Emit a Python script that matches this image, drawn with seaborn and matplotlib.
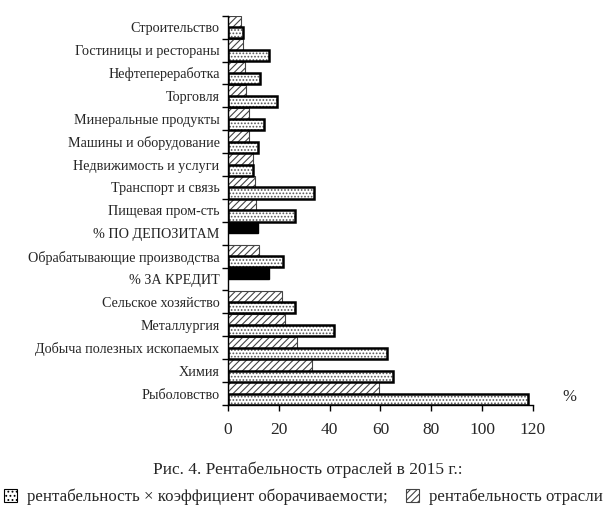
import matplotlib
matplotlib.use("Agg")
import matplotlib.pyplot as plt
import seaborn as sns
import numpy as np
import pandas as pd
from matplotlib.patches import Patch, Rectangle

categories = [
    "Строительство", "Гостиницы и рестораны", "Нефтепереработка", "Торговля",
    "Минеральные продукты", "Машины и оборудование", "Недвижимость и услуги",
    "Транспорт и связь", "Пищевая пром-сть", "% ПО ДЕПОЗИТАМ",
    "Обрабатывающие производства", "% ЗА КРЕДИТ", "Сельское хозяйство",
    "Металлургия", "Добыча полезных ископаемых", "Химия", "Рыболовство",
]
# рентабельность отрасли (hatched, upper bar); rates for the two % rows
profitability = [5.2, 5.9, 6.6, 7.2, 8.3, 8.3, 9.7, 10.6, 11.0, 11.8,
                 12.4, 16.0, 21.4, 22.4, 27.0, 33.2, 59.6]
# рентабельность × коэффициент оборачиваемости (dotted, lower bar)
prof_turnover = [6.0, 16.1, 12.6, 19.2, 14.2, 11.8, 9.7, 33.9, 26.5, None,
                 21.6, None, 26.5, 41.7, 62.5, 65.1, 118.0]
rate_rows = ["% ПО ДЕПОЗИТАМ", "% ЗА КРЕДИТ"]
x_ticks = [0, 20, 40, 60, 80, 100, 120]

rows = []
for c, a, b in zip(categories, profitability, prof_turnover):
    rows.append({"cat": c, "series": "top", "value": a})
    if b is not None:
        rows.append({"cat": c, "series": "bottom", "value": b})
df = pd.DataFrame(rows)

sns.set_style("white")
plt.rcParams["font.family"] = ["Liberation Serif", "DejaVu Serif"]
plt.rcParams["hatch.linewidth"] = 0.8

fig = plt.figure(figsize=(6.16, 5.19), dpi=100)
ax = fig.add_axes([0.370, 0.2197, 0.495, 0.750])

sns.barplot(data=df, y="cat", x="value", hue="series", order=categories,
            hue_order=["top", "bottom"], orient="h", width=0.98, dodge=True,
            errorbar=None, legend=False, ax=ax)

for ci, cont in enumerate(ax.containers):
    for bar in cont:
        idx = int(np.floor(bar.get_y() + bar.get_height() / 2 + 0.5))
        cat = categories[idx]
        if ci == 0:
            if cat in rate_rows:
                bar.set_facecolor("black")
                bar.set_edgecolor("black")
                bar.set_hatch(None)
                bar.set_linewidth(1.0)
            else:
                bar.set_facecolor("white")
                bar.set_edgecolor("#444444")
                bar.set_hatch("/////")
                bar.set_linewidth(0.8)
        else:
            bar.set_facecolor("white")
            bar.set_edgecolor("#555555")
            bar.set_hatch(".....")
            bar.set_linewidth(0)
            ax.add_patch(Rectangle((bar.get_x(), bar.get_y()), bar.get_width(),
                                   bar.get_height(), fill=False,
                                   edgecolor="black", linewidth=1.8, zorder=3))

ax.set_xlim(0, 120)
ax.set_ylim(len(categories) - 0.5, -0.5)
ax.set_xticks(x_ticks)
ax.set_xticklabels([str(t) for t in x_ticks], fontsize=12.5)
ax.set_yticks(range(len(categories)))
ax.set_yticklabels(categories, fontsize=10.2)
ax.set_yticks(np.arange(-0.5, len(categories), 1), minor=True)
ax.tick_params(axis="y", which="major", length=0, pad=6, left=False)
ax.tick_params(axis="y", which="minor", length=4, direction="out", color="black",
               width=1, left=True)
ax.tick_params(axis="x", which="major", length=4, direction="out", color="black",
               width=1, pad=8, bottom=True)
ax.set_xlabel("")
ax.set_ylabel("")
for s in ["top", "right"]:
    ax.spines[s].set_visible(False)
for s in ["left", "bottom"]:
    ax.spines[s].set_color("black")
    ax.spines[s].set_linewidth(1.0)
    ax.spines[s].set_zorder(4)

fig.text(0.925, 0.235, "%", fontsize=12, ha="center", va="center")
fig.text(0.5, 0.094, "Рис. 4. Рентабельность отраслей в 2015 г.:", fontsize=12.5,
         ha="center", va="center")

handles = [
    Patch(facecolor="white", edgecolor="black", hatch="....", linewidth=0.8),
    Patch(facecolor="white", edgecolor="#444444", hatch="/////", linewidth=0.8),
]
labels = ["рентабельность × коэффициент оборачиваемости;", "рентабельность отрасли"]
fig.legend(handles, labels, loc="center", bbox_to_anchor=(0.493, 0.042), ncol=2,
           frameon=False, fontsize=12.2, handlelength=0.75, handleheight=0.75,
           handletextpad=0.6, columnspacing=1.1, borderpad=0)

fig.savefig("out.png", dpi=100)
